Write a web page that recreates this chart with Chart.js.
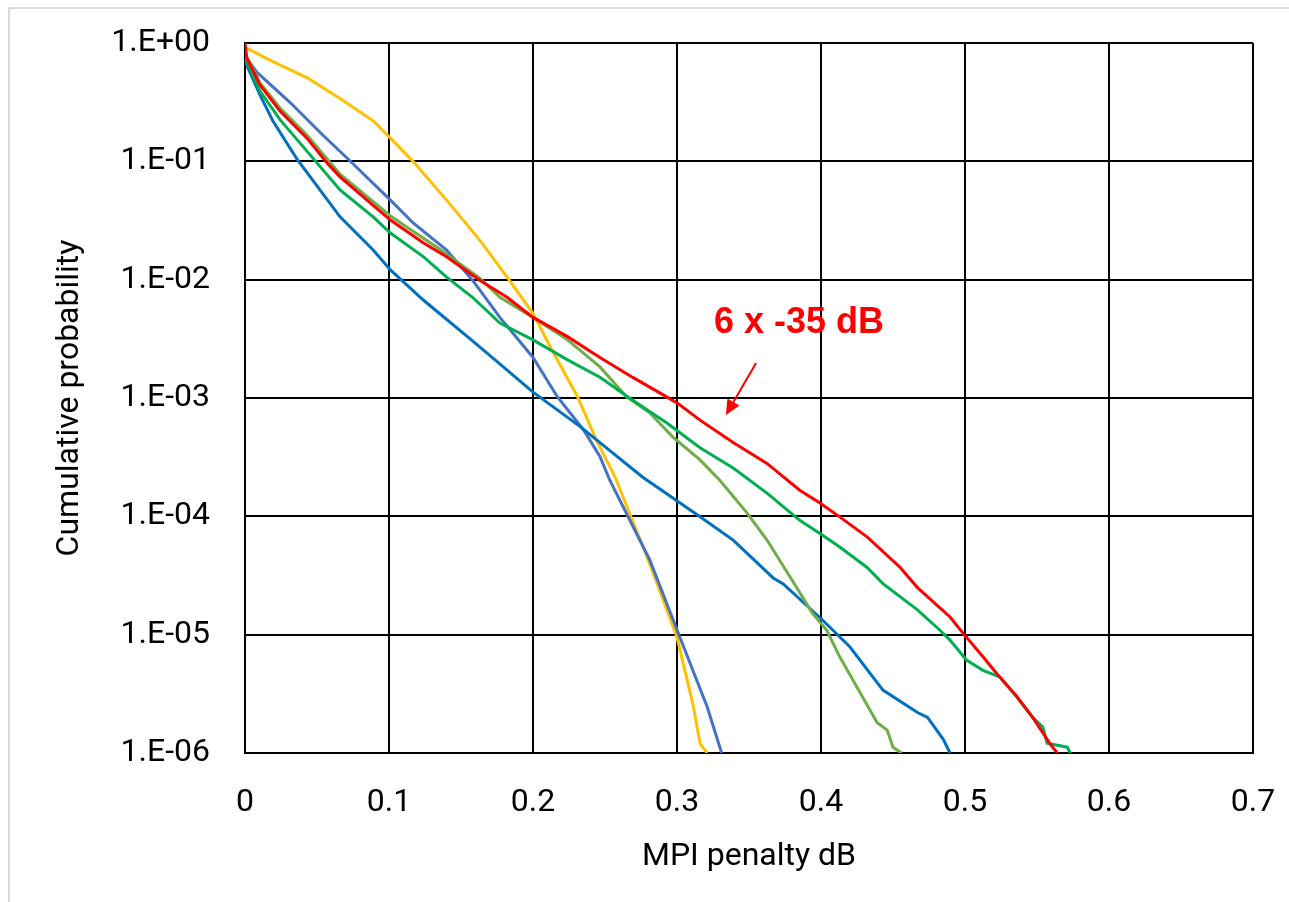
<!DOCTYPE html>
<html>
<head>
<meta charset="utf-8">
<title>MPI penalty</title>
<script src="https://cdn.jsdelivr.net/npm/chart.js@4.4.1/dist/chart.umd.min.js"></script>
<style>
  html, body { margin: 0; padding: 0; background: #fff; overflow: hidden; }
  #wrap { position: relative; width: 1289px; height: 902px; }
  #frame {
    position: absolute; left: 8px; top: 7px; width: 1400px; height: 1000px;
    border: 2px solid #d9d9d9; box-sizing: border-box;
  }
  #chart { position: absolute; left: 0; top: 0; }
</style>
</head>
<body>
<div id="wrap">
  <div id="frame"></div>
  <canvas id="chart" width="1289" height="902"></canvas>
</div>
<script>
// axis ticks
const xTickValues = [0, 0.1, 0.2, 0.3, 0.4, 0.5, 0.6, 0.7];
const xTickLabels = ["0", "0.1", "0.2", "0.3", "0.4", "0.5", "0.6", "0.7"];
const yTickValues = [1, 1e-1, 1e-2, 1e-3, 1e-4, 1e-5, 1e-6];
const yTickLabels = ["1.E+00", "1.E-01", "1.E-02", "1.E-03", "1.E-04", "1.E-05", "1.E-06"];

// series: MPI penalty (dB) vs cumulative probability
const redX = [0, 0.0012, 0.0104, 0.0243, 0.043, 0.057, 0.066, 0.089, 0.101, 0.124, 0.140, 0.163, 0.182, 0.200, 0.224, 0.2465, 0.269, 0.300, 0.316, 0.339, 0.3625, 0.385, 0.399, 0.413, 0.432, 0.455, 0.467, 0.4896, 0.4986, 0.5125, 0.522, 0.536, 0.547, 0.559, 0.564];
const redP = [1, 0.75, 0.442, 0.266, 0.157, 0.097, 0.074, 0.0425, 0.0319, 0.0204, 0.0156, 0.0099, 0.0071, 0.0048, 0.0033, 0.0022, 0.0015, 9.1e-4, 6.5e-4, 4.2e-4, 2.8e-4, 1.67e-4, 1.3e-4, 9.9e-5, 6.7e-5, 3.7e-5, 2.5e-5, 1.41e-5, 1.03e-5, 6.5e-6, 4.7e-6, 3.0e-6, 2.0e-6, 1.2e-6, 1e-6];

const greenX = [0, 0.0104, 0.0243, 0.043, 0.066, 0.089, 0.101, 0.124, 0.140, 0.158, 0.177, 0.200, 0.224, 0.2465, 0.269, 0.293, 0.316, 0.339, 0.3625, 0.385, 0.399, 0.413, 0.432, 0.443, 0.467, 0.4826, 0.4896, 0.501, 0.5125, 0.524, 0.536, 0.547, 0.554, 0.557, 0.571, 0.573];
const greenP = [0.75, 0.393, 0.225, 0.122, 0.0573, 0.0339, 0.0248, 0.0156, 0.0105, 0.0071, 0.0043, 0.0031, 0.0021, 0.0015, 9.6e-4, 6.15e-4, 3.8e-4, 2.56e-4, 1.57e-4, 9.3e-5, 7.2e-5, 5.5e-5, 3.7e-5, 2.7e-5, 1.62e-5, 1.09e-5, 9.0e-6, 6.1e-6, 5.0e-6, 4.4e-6, 2.97e-6, 2.0e-6, 1.66e-6, 1.21e-6, 1.12e-6, 1e-6];

const lightGreenX = [0, 0.0104, 0.0243, 0.043, 0.066, 0.101, 0.135, 0.163, 0.177, 0.200, 0.224, 0.2465, 0.265, 0.281, 0.297, 0.316, 0.330, 0.3486, 0.3625, 0.3806, 0.394, 0.404, 0.413, 0.425, 0.439, 0.446, 0.450, 0.456];
const lightGreenP = [0.82, 0.459, 0.282, 0.167, 0.078, 0.0345, 0.0182, 0.0103, 0.0071, 0.0048, 0.0031, 0.00183, 0.00102, 7.5e-4, 4.7e-4, 3.0e-4, 2.0e-4, 1.07e-4, 6.3e-5, 2.8e-5, 1.52e-5, 1.09e-5, 6.5e-6, 3.6e-6, 1.8e-6, 1.56e-6, 1.12e-6, 1e-6];

const darkBlueX = [0, 0.0104, 0.0194, 0.036, 0.066, 0.089, 0.101, 0.124, 0.163, 0.200, 0.233, 0.2465, 0.276, 0.316, 0.339, 0.367, 0.3736, 0.401, 0.420, 0.443, 0.467, 0.474, 0.485, 0.4896];
const darkBlueP = [0.70, 0.364, 0.219, 0.105, 0.034, 0.0178, 0.0121, 0.0067, 0.0027, 0.00112, 5.7e-4, 4.2e-4, 2.15e-4, 9.9e-5, 6.3e-5, 3.0e-5, 2.7e-5, 1.33e-5, 7.9e-6, 3.4e-6, 2.2e-6, 2.0e-6, 1.3e-6, 1e-6];

const lightBlueX = [0, 0.008, 0.031, 0.054, 0.073, 0.101, 0.117, 0.140, 0.158, 0.177, 0.200, 0.217, 0.235, 0.2465, 0.2535, 0.281, 0.302, 0.321, 0.331];
const lightBlueP = [0.78, 0.57, 0.317, 0.167, 0.1007, 0.047, 0.030, 0.0178, 0.0099, 0.0048, 0.0022, 0.00102, 5.4e-4, 3.2e-4, 2.0e-4, 4.3e-5, 9.5e-6, 2.45e-6, 1e-6];

const yellowX = [0, 0.019, 0.043, 0.066, 0.089, 0.101, 0.117, 0.140, 0.163, 0.182, 0.200, 0.212, 0.231, 0.244, 0.257, 0.281, 0.300, 0.311, 0.316, 0.321];
const yellowP = [0.92, 0.70, 0.51, 0.34, 0.22, 0.157, 0.099, 0.047, 0.0216, 0.0105, 0.0052, 0.0027, 0.00102, 4.4e-4, 2.15e-4, 4.0e-5, 9.5e-6, 2.6e-6, 1.2e-6, 1e-6];

// annotation, in data units
const noteText = "6 x -35 dB";
const notePos = { x: 0.3257, y: 0.0043 };
const arrowFrom = { x: 0.3549, y: 0.00198 };
const arrowTo = { x: 0.334, y: 7.18e-4 };

const pts = (xs, ps) => xs.map((x, i) => ({ x, y: ps[i] }));

const series = (data, color) => ({
  data,
  borderColor: color,
  borderWidth: 3,
  pointRadius: 0,
  tension: 0,
  fill: false,
});

// first dataset ends up on top
const datasets = [
  series(pts(redX, redP), "#ff0000"),
  series(pts(greenX, greenP), "#00b050"),
  series(pts(lightGreenX, lightGreenP), "#70ad47"),
  series(pts(darkBlueX, darkBlueP), "#0070c0"),
  series(pts(lightBlueX, lightBlueP), "#4472c4"),
  series(pts(yellowX, yellowP), "#ffc000"),
];

const notePlugin = {
  id: "note",
  afterDatasetsDraw(chart) {
    const { ctx, scales: { x, y } } = chart;
    ctx.save();
    ctx.fillStyle = "#ff0000";
    ctx.strokeStyle = "#ff0000";
    ctx.font = "bold 36px 'Liberation Sans', Arial, sans-serif";
    ctx.textAlign = "left";
    ctx.textBaseline = "middle";
    ctx.fillText(noteText, x.getPixelForValue(notePos.x), y.getPixelForValue(notePos.y));

    const x1 = x.getPixelForValue(arrowFrom.x), y1 = y.getPixelForValue(arrowFrom.y);
    const x2 = x.getPixelForValue(arrowTo.x), y2 = y.getPixelForValue(arrowTo.y);
    const ang = Math.atan2(y2 - y1, x2 - x1);
    const head = 15, half = 7;
    const bx = x2 - head * Math.cos(ang), by = y2 - head * Math.sin(ang);
    ctx.lineWidth = 2;
    ctx.beginPath();
    ctx.moveTo(x1, y1);
    ctx.lineTo(bx, by);
    ctx.stroke();
    ctx.beginPath();
    ctx.moveTo(x2, y2);
    ctx.lineTo(bx + half * Math.sin(ang), by - half * Math.cos(ang));
    ctx.lineTo(bx - half * Math.sin(ang), by + half * Math.cos(ang));
    ctx.closePath();
    ctx.fill();
    ctx.restore();
  },
};

Chart.defaults.font.family = "Roboto, 'Open Sans', sans-serif";
Chart.defaults.font.size = 32;
Chart.defaults.color = "#000";

new Chart(document.getElementById("chart"), {
  type: "line",
  data: { datasets },
  plugins: [notePlugin],
  options: {
    responsive: false,
    animation: false,
    devicePixelRatio: 1,
    layout: { padding: { top: 43, right: 36, bottom: 0, left: 0 } },
    plugins: { legend: { display: false }, tooltip: { enabled: false } },
    scales: {
      x: {
        type: "linear",
        min: 0,
        max: 0.7,
        afterFit: (s) => {
          s.height = 149;
          s.paddingLeft = 0;
          s.paddingRight = 0;
        },
        afterBuildTicks: (s) => { s.ticks = xTickValues.map((v) => ({ value: v })); },
        ticks: {
          padding: 31,
          maxRotation: 0,
          callback: (v, i) => xTickLabels[i],
        },
        grid: { color: "#000", lineWidth: 2, drawTicks: false },
        border: { color: "#000", width: 2 },
        title: {
          display: true,
          text: "MPI penalty dB",
          font: { size: 32 },
          padding: { top: 0, bottom: 26 },
        },
      },
      y: {
        type: "logarithmic",
        min: 1e-6,
        max: 1,
        afterFit: (s) => {
          s.width = 245;
          s.paddingTop = 0;
          s.paddingBottom = 0;
        },
        afterBuildTicks: (s) => { s.ticks = yTickValues.map((v) => ({ value: v })); },
        ticks: {
          padding: 35,
          callback: (v, i) => yTickLabels[i],
        },
        grid: { color: "#000", lineWidth: 2, drawTicks: false },
        border: { color: "#000", width: 2 },
        title: {
          display: true,
          text: "Cumulative probability",
          font: { size: 32 },
          padding: { top: 51, bottom: 0 },
        },
      },
    },
  },
});
</script>
</body>
</html>
